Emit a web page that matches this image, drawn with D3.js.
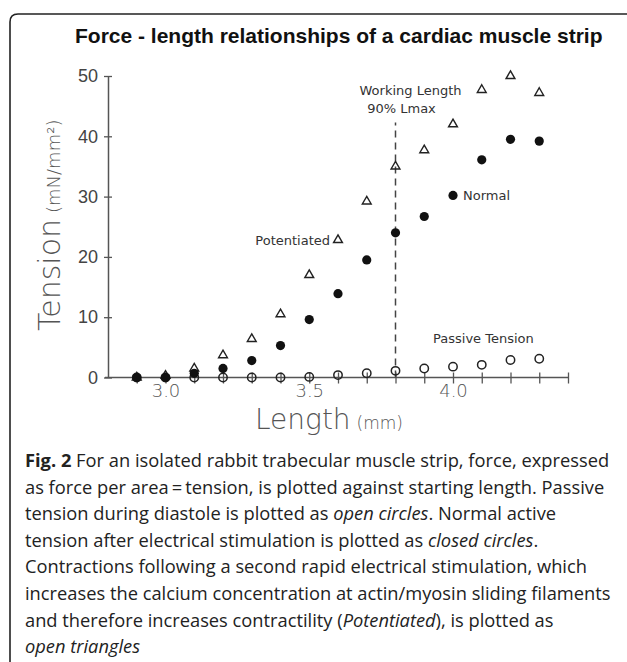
<!DOCTYPE html>
<html>
<head>
<meta charset="utf-8">
<script src="https://cdn.jsdelivr.net/npm/d3@7"></script>
<style>
  body{margin:0;background:#fff;}
  svg{display:block;}
</style>
</head>
<body>
<div id="my-draw"></div>
<script>

// data (length in mm, tension in mN/mm2)
var lengths=[2.9,3.0,3.1,3.2,3.3,3.4,3.5,3.6,3.7,3.8,3.9,4.0,4.1,4.2,4.3];
var passive=[0,0,0,0,0,0,0.1,0.4,0.7,1.1,1.5,1.8,2.1,2.9,3.1];
var normal=[0,0,0.7,1.5,2.8,5.3,9.6,13.9,19.5,24.0,26.7,30.2,36.1,39.5,39.2];
var potentiated=[0,0.3,1.5,3.7,6.4,10.5,17.0,22.8,29.2,35.0,37.7,42.0,47.7,50.0,47.2];

var xTickValues=[2.9,3.0,3.1,3.2,3.3,3.4,3.5,3.6,3.7,3.8,3.9,4.0,4.1,4.2,4.3,4.4];
var xLabelValues=[3.0,3.5,4.0];
var xLabels=["3.0","3.5","4.0"];
var yTickValues=[0,10,20,30,40,50];
var yLabels=["0","10","20","30","40","50"];

var workingLength=3.8, workingTop=42.3;

var title="Force - length relationships of a cardiac muscle strip";
var caption=[
  [["b","Fig. 2"],["n"," For an isolated rabbit trabecular muscle strip, force, expressed"]],
  [["n","as force per area\u2009=\u2009tension, is plotted against starting length. Passive"]],
  [["n","tension during diastole is plotted as "],["i","open circles"],["n",". Normal active"]],
  [["n","tension after electrical stimulation is plotted as "],["i","closed circles"],["n","."]],
  [["n","Contractions following a second rapid electrical stimulation, which"]],
  [["n","increases the calcium concentration at actin/myosin sliding filaments"]],
  [["n","and therefore increases contractility ("],["i","Potentiated"],["n","), is plotted as"]],
  [["i","open triangles"]]
];

var data=lengths.map(function(d,i){
  return {x:d,passive:passive[i],normal:normal[i],pot:potentiated[i]};
});

var width=627, height=662;

var svg=d3.select("#my-draw")
          .append("svg")
          .attr("width",width)
          .attr("height",height);

// frame of the figure box
svg.append("path")
   .attr("d","M10,662 V22 Q10,14 18,14 H627")
   .attr("fill","none")
   .attr("stroke","#222")
   .attr("stroke-width",1.6);

svg.append("text")
   .attr("x",75)
   .attr("y",43)
   .style("font-family","'Liberation Sans', Arial, sans-serif")
   .style("font-weight","bold")
   .style("font-size","21px")
   .attr("fill","#111")
   .text(title);

var x=d3.scaleLinear()
        .domain([2.8,4.4])
        .range([108,568]);

var y=d3.scaleLinear()
        .domain([0,50])
        .range([377.5,76]);

var axisColor="#555";

// x axis: small ticks every 0.1 crossing the line
var xAxis=svg.append("g")
   .attr("class","x-axis")
   .attr("transform","translate(0,"+y(0)+")")
   .call(d3.axisBottom(x).tickValues(xTickValues).tickSize(6).tickSizeOuter(0).tickFormat(""));
xAxis.select(".domain").attr("d","M105,0H"+x(4.4)).attr("stroke",axisColor).attr("stroke-width",1.5);
xAxis.selectAll(".tick line").attr("y1",-5).attr("stroke",axisColor).attr("stroke-width",1.3);

var xLab=svg.append("g")
   .attr("transform","translate(0,"+y(0)+")")
   .call(d3.axisBottom(x).tickValues(xLabelValues).tickSize(0).tickPadding(7)
          .tickFormat(function(d,i){return xLabels[i];}));
xLab.select(".domain").remove();
xLab.selectAll("text")
    .style("font-family","'DejaVu Sans', sans-serif")
    .style("font-weight","300")
    .style("font-size","18px")
    .attr("fill","#555");

var yAxis=svg.append("g")
   .attr("class","y-axis")
   .attr("transform","translate("+x(2.8)+",0)")
   .call(d3.axisLeft(y).tickValues(yTickValues).tickSize(4).tickSizeOuter(0).tickPadding(6)
          .tickFormat(function(d,i){return yLabels[i];}));
yAxis.select(".domain").attr("stroke",axisColor).attr("stroke-width",1.5);
yAxis.selectAll(".tick line").attr("x1",4).attr("stroke",axisColor).attr("stroke-width",1.3);
yAxis.selectAll("text")
     .style("font-family","'Liberation Sans', Arial, sans-serif")
     .style("font-size","18px")
     .attr("fill","#444");

// axis titles
var yt=svg.append("text")
   .attr("transform","translate(60,331) rotate(-90)")
   .attr("fill","#555")
   .style("font-family","'DejaVu Sans', sans-serif")
   .style("font-weight","200");
yt.append("tspan").style("font-size","30px").text("Tension");
yt.append("tspan").style("font-size","18px").attr("dx",6).text("(mN/mm\u00b2)");

var xt=svg.append("text")
   .attr("x",255)
   .attr("y",429)
   .attr("fill","#555")
   .style("font-family","'DejaVu Sans', sans-serif")
   .style("font-weight","200");
xt.append("tspan").style("font-size","28px").text("Length");
xt.append("tspan").style("font-size","17px").attr("dx",6).text("(mm)");

// working length marker
svg.append("line")
   .attr("x1",x(workingLength))
   .attr("x2",x(workingLength))
   .attr("y1",y(0))
   .attr("y2",y(workingTop))
   .attr("stroke","#444")
   .attr("stroke-width",1.5)
   .attr("stroke-dasharray","7,5");

// points
svg.append("g")
   .selectAll("path")
   .data(data)
   .enter()
   .append("path")
     .attr("class","pot")
     .attr("transform",function(d){return "translate("+x(d.x)+","+y(d.pot)+")";})
     .attr("d",d3.symbol().type(d3.symbolTriangle).size(34))
     .attr("fill","none")
     .attr("stroke","#222")
     .attr("stroke-width",1.4);

svg.append("g")
   .selectAll("circle")
   .data(data)
   .enter()
   .append("circle")
     .attr("class","passive")
     .attr("cx",function(d){return x(d.x);})
     .attr("cy",function(d){return y(d.passive);})
     .attr("r",4.2)
     .attr("fill","none")
     .attr("stroke","#222")
     .attr("stroke-width",1.5);

svg.append("g")
   .selectAll("circle")
   .data(data)
   .enter()
   .append("circle")
     .attr("class","normal")
     .attr("cx",function(d){return x(d.x);})
     .attr("cy",function(d){return y(d.normal);})
     .attr("r",4.6)
     .attr("fill","#111");

// annotations
function note(tx,ty,anchor,str){
  svg.append("text")
     .attr("x",tx)
     .attr("y",ty)
     .attr("text-anchor",anchor)
     .attr("fill","#333")
     .style("font-family","'DejaVu Sans', sans-serif")
     .style("font-size","13px")
     .text(str);
}
note(x(workingLength)+15,95,"middle","Working Length");
note(x(workingLength)+6,113,"middle","90% Lmax");
note(x(4.0)+10,y(30.2)+5,"start","Normal");
note(x(3.6)-8,y(22.8)+5,"end","Potentiated");
note(x(4.0)-20,343,"start","Passive Tension");

// caption
caption.forEach(function(line,i){
  var t=svg.append("text")
     .attr("x",25)
     .attr("y",467+i*26.6)
     .attr("fill","#222")
     .style("font-family","'Open Sans', sans-serif")
     .style("font-size","18.3px");
  line.forEach(function(p){
    var s=t.append("tspan").text(p[1]);
    if(p[0]=="b"){s.style("font-weight","bold");}
    if(p[0]=="i"){s.style("font-style","italic");}
  });
});

</script>
</body>
</html>
